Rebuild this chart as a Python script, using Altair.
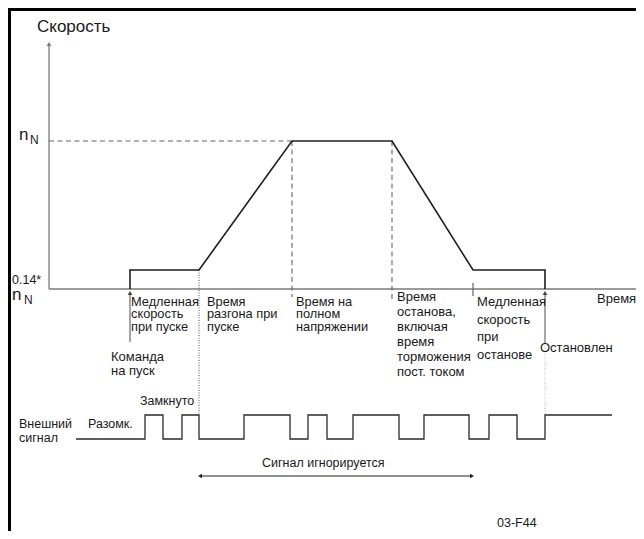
import altair as alt
import pandas as pd

# ---------------- data (diagram units: x = time position, y = level position from top) -------------
W, H = 628, 523
X_DOMAIN = [8, 8 + W]
Y_DOMAIN = [8, 8 + H]

# speed profile
profile_x = [130, 130, 199, 292, 392, 473, 545, 545]
profile_y = [289, 270, 270, 141, 141, 270, 270, 289]

# external signal (step-after)
signal_x = [76, 145, 163, 182, 199, 244, 290, 308, 327, 353, 399, 424, 469, 489, 517, 545, 612]
signal_state = ["low", "high", "low", "high", "low", "high", "low", "high", "low",
                "high", "low", "high", "low", "high", "low", "high", "high"]
signal_levels = {"high": 415, "low": 439}

# frame
frame_x = [8.5, 9.5]
frame_x2 = [636, 9.5]
frame_y = [9.5, 8]
frame_y2 = [9.5, 531]

# axes
axis_x = [49, 49]
axis_x2 = [49, 636]
axis_y = [45, 289]
axis_y2 = [289, 289]

# dashed guides
dash_x = [49, 292, 392]
dash_x2 = [292, 292, 392]
dash_y = [141, 141, 141]
dash_y2 = [141, 297, 300]

# dotted guides
dot_x = [199, 545]
dot_y = [270, 343]
dot_y2 = [415, 415]
dot_color = ["#555555", "#bbbbbb"]

# small ticks on time axis
tick_x = [473]
tick_y = [283]
tick_y2 = [296]

# command arrows (start / stopped)
cmd_x = [130, 545]
cmd_y = [292, 292]
cmd_y2 = [342, 343]

# ignored-signal double arrow
ign_x = [200]
ign_x2 = [472]
ign_y = [476]

# arrowheads
head_x = [49, 130, 545, 200, 472]
head_y = [44, 293, 293, 476, 476]
head_angle = [0, 0, 0, 270, 90]
head_color = ["#777777", "#444444", "#444444", "#222222", "#222222"]

# labels
label_text = ["Скорость", "n", "N", "0.14*", "n", "N",
              "Медленная", "скорость", "при пуске",
              "Время", "разгона при", "пуске",
              "Время на", "полном", "напряжении",
              "Время", "останова,", "включая", "время", "торможения", "пост. током",
              "Медленная", "скорость", "при", "останове",
              "Время", "Команда", "на пуск", "Остановлен", "Замкнуто",
              "Внешний", "сигнал", "Разомк.", "Сигнал игнорируется", "03-F44"]
label_x = [37, 19, 30, 12, 12, 24,
           131, 131, 131,
           207, 207, 207,
           296, 296, 296,
           397, 397, 397, 397, 397, 397,
           477, 477, 477, 477,
           597, 111, 111, 540, 140,
           19, 19, 88, 262, 497]
label_y = [32, 140, 144, 284, 300, 304,
           305.5, 318, 330.5,
           305.5, 318, 330.5,
           305.5, 318, 330.5,
           301, 316, 331, 346, 361, 376,
           306, 324, 341, 359,
           303, 361, 375, 352, 405,
           428, 442, 428, 467, 527]
label_size = [17, 17, 12, 12.5, 17, 12,
              12.8, 12.8, 12.8,
              12.8, 12.8, 12.8,
              12.8, 12.8, 12.8,
              13, 13, 13, 13, 13, 13,
              13, 13, 13, 13,
              13, 13, 13, 13, 12.5,
              12.5, 12.5, 12.5, 12.5, 12.5]

# ---------------- chart ----------------
xs = alt.Scale(domain=X_DOMAIN, nice=False, zero=False)
ys = alt.Scale(domain=Y_DOMAIN, nice=False, zero=False, reverse=True)
X = lambda f="x": alt.X(f + ":Q", scale=xs, axis=None)
Y = lambda f="y": alt.Y(f + ":Q", scale=ys, axis=None)

def rules(df, color, width, dash=None):
    kw = dict(color=color, strokeWidth=width)
    if dash:
        kw["strokeDash"] = dash
    return alt.Chart(df).mark_rule(**kw).encode(
        x=X(), x2="x2:Q", y=Y(), y2="y2:Q")

frame = rules(pd.DataFrame({"x": frame_x, "x2": frame_x2, "y": frame_y, "y2": frame_y2}),
              "#000000", 3)
axes = rules(pd.DataFrame({"x": axis_x, "x2": axis_x2, "y": axis_y, "y2": axis_y2}),
             "#7a7a7a", 1.3)
dashed = rules(pd.DataFrame({"x": dash_x, "x2": dash_x2, "y": dash_y, "y2": dash_y2}),
               "#666666", 1.1, [5, 3.5])
dotted = alt.Chart(pd.DataFrame({"x": dot_x, "y": dot_y, "y2": dot_y2, "c": dot_color})).mark_rule(
    strokeWidth=1, strokeDash=[1, 1.5]).encode(
    x=X(), y=Y(), y2="y2:Q", color=alt.Color("c:N", scale=None))
ticks = alt.Chart(pd.DataFrame({"x": tick_x, "y": tick_y, "y2": tick_y2})).mark_rule(
    color="#666666", strokeWidth=1.2).encode(x=X(), y=Y(), y2="y2:Q")
cmds = alt.Chart(pd.DataFrame({"x": cmd_x, "y": cmd_y, "y2": cmd_y2})).mark_rule(
    color="#777777", strokeWidth=1.3).encode(x=X(), y=Y(), y2="y2:Q")
ign = alt.Chart(pd.DataFrame({"x": ign_x, "x2": ign_x2, "y": ign_y})).mark_rule(
    color="#222222", strokeWidth=1.2).encode(x=X(), x2="x2:Q", y=Y())

profile_df = pd.DataFrame({"x": profile_x, "y": profile_y, "o": range(len(profile_x))})
profile = alt.Chart(profile_df).mark_line(color="#1e1e1e", strokeWidth=1.6).encode(
    x=X(), y=Y(), order="o:Q")

signal_df = pd.DataFrame({"x": signal_x, "y": [signal_levels[s] for s in signal_state],
                          "o": range(len(signal_x))})
signal = alt.Chart(signal_df).mark_line(color="#2a2a2a", strokeWidth=1.3,
                                        interpolate="step-after").encode(
    x=X(), y=Y(), order="o:Q")

heads = alt.Chart(pd.DataFrame({"x": head_x, "y": head_y, "a": head_angle, "c": head_color})).mark_point(
    shape="triangle-up", filled=True, opacity=1, size=22).encode(
    x=X(), y=Y(), angle=alt.Angle("a:Q", scale=None), color=alt.Color("c:N", scale=None))

labels = alt.Chart(pd.DataFrame({"x": label_x, "y": label_y, "t": label_text, "s": label_size})).mark_text(
    align="left", baseline="alphabetic", font="Liberation Sans", color="#1a1a1a").encode(
    x=X(), y=Y(), text="t:N", size=alt.Size("s:Q", scale=None))

chart = alt.layer(frame, axes, dashed, dotted, ticks, cmds, ign, profile, signal, heads, labels).properties(
    width=W, height=H, padding=0, autosize=alt.AutoSizeParams(type="none")
).configure_view(stroke=None)

chart.save("out.html", embed_options={"renderer": "svg", "actions": False})
